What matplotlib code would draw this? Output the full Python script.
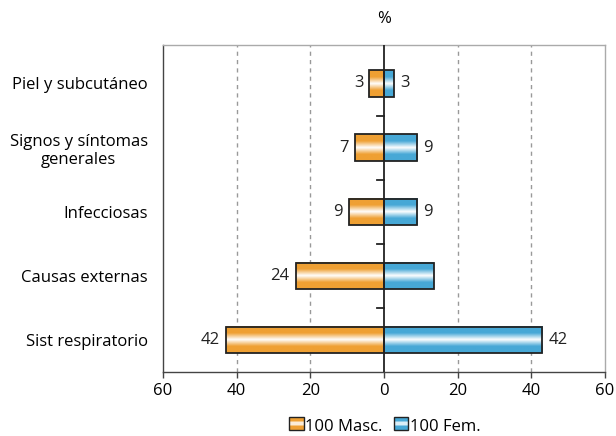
import matplotlib.pyplot as plt
import numpy as np
from matplotlib.colors import LinearSegmentedColormap
from matplotlib.patches import Rectangle
from matplotlib.legend_handler import HandlerBase

plt.rcParams["font.family"] = ["Open Sans", "DejaVu Sans"]

categories = ["Sist respiratorio", "Causas externas", "Infecciosas",
              "Signos y síntomas\ngenerales", "Piel y subcutáneo"]
masc = [43, 24, 9.5, 8, 4]
fem = [43, 13.5, 9, 9, 2.7]
masc_labels = ["42", "24", "9", "7", "3"]
fem_labels = ["42", "", "9", "9", "3"]
xticks = [-60, -40, -20, 0, 20, 40, 60]
xticklabels = ["60", "40", "20", "0", "20", "40", "60"]

orange = "#EFA033"
blue = "#47A8D6"
FS = 12


def grad_cmap(color):
    return LinearSegmentedColormap.from_list(
        "g", [color, color, "#FFFFFF", color, color], N=256)


cm_or = grad_cmap(orange)
cm_bl = grad_cmap(blue)
grad = np.linspace(0, 1, 64).reshape(-1, 1)

fig = plt.figure(figsize=(6.16, 4.36), dpi=100)
ax = fig.add_axes([163 / 616, 1 - 372 / 436, 442 / 616, 327 / 436])

h = 0.41
y = np.arange(len(categories))


def gbar(x0, x1, yc, cmap):
    ax.imshow(grad, cmap=cmap, aspect="auto", interpolation="bilinear",
              extent=(x0, x1, yc - h / 2, yc + h / 2), zorder=2)
    ax.add_patch(Rectangle((x0, yc - h / 2), x1 - x0, h, fill=False,
                           edgecolor="#222222", lw=1.3, zorder=3))


for i in range(len(categories)):
    gbar(-masc[i], 0, y[i], cm_or)
    gbar(0, fem[i], y[i], cm_bl)
    ax.text(-masc[i] - 1.6, y[i], masc_labels[i], ha="right", va="center",
            fontsize=FS, color="#222222")
    if fem_labels[i]:
        ax.text(fem[i] + 1.6, y[i], fem_labels[i], ha="left", va="center",
                fontsize=FS, color="#222222")

ax.set_xlim(-60, 60)
ax.set_ylim(-0.5, 4.6)

for gx in [-40, -20, 20, 40]:
    ax.axvline(gx, color="#999999", ls=(0, (3, 3)), lw=1, zorder=1)
ax.axvline(0, color="#222222", lw=1.3, zorder=4)

# small ticks on the zero line between categories
for b in np.arange(0.5, len(categories) - 1, 1.0):
    ax.plot([-1.8, 0], [b, b], color="#222222", lw=1.3, zorder=4)

ax.set_xticks(xticks)
ax.set_xticklabels(xticklabels, fontsize=FS)
ax.tick_params(axis="x", length=4, width=1, color="#444444", pad=4)
ax.set_yticks(y)
ax.set_yticklabels(categories, fontsize=FS, multialignment="center")
ax.tick_params(axis="y", length=0, pad=11)
for k in ["top", "right"]:
    ax.spines[k].set_color("#AAAAAA")
    ax.spines[k].set_linewidth(1)
for k in ["left", "bottom"]:
    ax.spines[k].set_color("#444444")
    ax.spines[k].set_linewidth(1)

ax.text(0, 1 + 26 / 327, "%", transform=ax.get_xaxis_transform(), ha="center",
        va="center", fontsize=FS)


class GradHandler(HandlerBase):
    def __init__(self, color):
        super().__init__()
        self.color = color

    def create_artists(self, legend, orig, xd, yd, width, height, fontsize, trans):
        arts = []
        n = 10
        cm = grad_cmap(self.color)
        for k in range(n):
            c = cm((k + 0.5) / n)
            arts.append(Rectangle((xd, yd + height * k / n), width, height / n,
                                  facecolor=c, edgecolor="none", transform=trans))
        arts.append(Rectangle((xd, yd), width, height, fill=False,
                              edgecolor="#222222", lw=1, transform=trans))
        return arts


h1 = Rectangle((0, 0), 1, 1)
h2 = Rectangle((0, 0), 1, 1)
fig.legend([h1, h2], ["100 Masc.", "100 Fem."],
           handler_map={h1: GradHandler(orange), h2: GradHandler(blue)},
           loc="center", bbox_to_anchor=(385 / 616, 1 - 427 / 436), ncol=2,
           frameon=False, fontsize=FS, handlelength=0.85, handleheight=0.85,
           handletextpad=0.1, columnspacing=0.7)

fig.savefig("out.png", dpi=100)
